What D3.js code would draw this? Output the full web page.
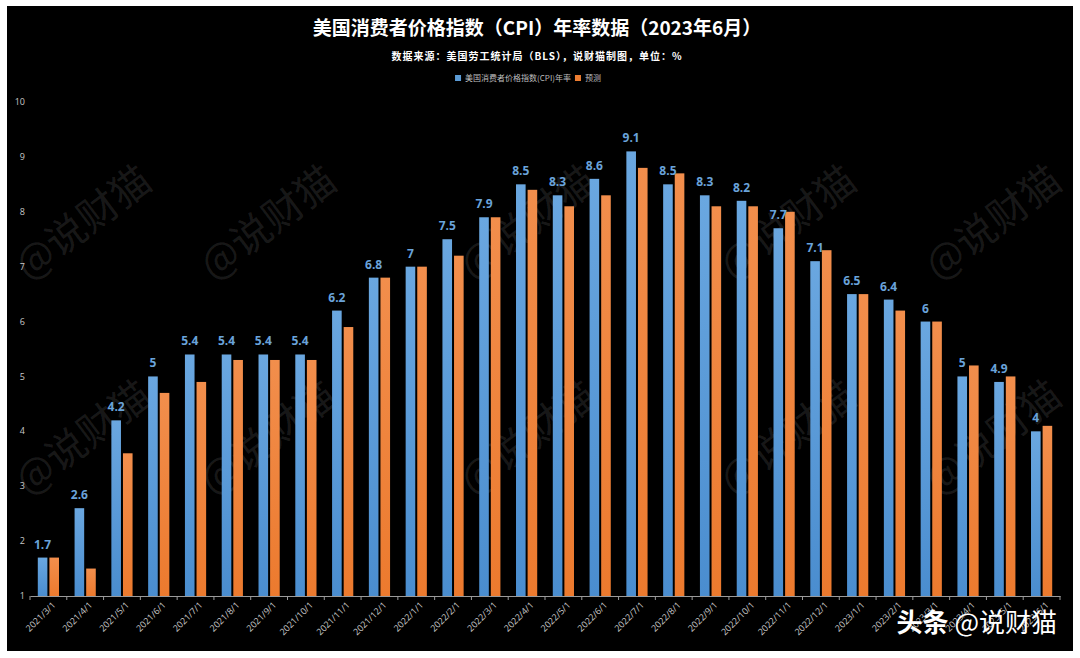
<!DOCTYPE html>
<html>
<head>
<meta charset="utf-8">
<script src="https://cdn.jsdelivr.net/npm/d3@7"></script>
<style>
  html, body { margin: 0; padding: 0; background: #ffffff; }
  svg { display: block; }
</style>
</head>
<body>
<svg id="chart" width="1080" height="658"></svg>
<script>
const categories = ["2021/3/1","2021/4/1","2021/5/1","2021/6/1","2021/7/1","2021/8/1","2021/9/1","2021/10/1","2021/11/1","2021/12/1",
  "2022/1/1","2022/2/1","2022/3/1","2022/4/1","2022/5/1","2022/6/1","2022/7/1","2022/8/1","2022/9/1","2022/10/1","2022/11/1","2022/12/1",
  "2023/1/1","2023/2/1","2023/3/1","2023/4/1","2023/5/1","2023/6/1"];
const cpiValues = [1.7,2.6,4.2,5,5.4,5.4,5.4,5.4,6.2,6.8,7,7.5,7.9,8.5,8.3,8.6,9.1,8.5,8.3,8.2,7.7,7.1,6.5,6.4,6,5,4.9,4];
const forecastValues = [1.7,1.5,3.6,4.7,4.9,5.3,5.3,5.3,5.9,6.8,7,7.2,7.9,8.4,8.1,8.3,8.8,8.7,8.1,8.1,8.0,7.3,6.5,6.2,6.0,5.2,5.0,4.1];
const yTicks = [1,2,3,4,5,6,7,8,9,10];
const seriesNames = ["美国消费者价格指数(CPI)年率", "预测"];
const titleText = "美国消费者价格指数（CPI）年率数据（2023年6月）";
const subtitleText = "数据来源：美国劳工统计局（BLS），说财猫制图，单位：%";

const svg = d3.select("#chart");
const CJK = "'Noto Sans CJK SC', 'Noto Sans', sans-serif";
const NUM = "'Open Sans', 'Noto Sans', sans-serif";

// defs: gradients
const defs = svg.append("defs");
const gB = defs.append("linearGradient").attr("id","gBlue").attr("x1",0).attr("y1",0).attr("x2",0).attr("y2",1);
gB.append("stop").attr("offset","0%").attr("stop-color","#6aa7e0");
gB.append("stop").attr("offset","100%").attr("stop-color","#4a8dcf");
const gO = defs.append("linearGradient").attr("id","gOrange").attr("x1",0).attr("y1",0).attr("x2",0).attr("y2",1);
gO.append("stop").attr("offset","0%").attr("stop-color","#f28e4c");
gO.append("stop").attr("offset","100%").attr("stop-color","#ec7a2e");

// background panel
svg.append("rect").attr("x",7).attr("y",6).attr("width",1066).attr("height",645).attr("fill","#000");

// watermarks (kept fully inside the panel)
const wmPos = [[85,225],[270,225],[530,225],[790,225],[995,225],
               [85,440],[270,440],[530,440],[790,440],[995,440]];
const wm = svg.append("g").attr("pointer-events","none");
wm.selectAll("text").data(wmPos).join("text")
  .attr("transform", d => `translate(${d[0]},${d[1]}) rotate(-37)`)
  .attr("text-anchor","middle").attr("dominant-baseline","middle")
  .attr("font-family", CJK).attr("font-size", 40)
  .attr("fill","#ffffff").attr("fill-opacity",0.10)
  .text("@说财猫");

// scales
const x = d3.scaleBand().domain(categories).range([30, 1060]).paddingInner(0).paddingOuter(0);
const y = d3.scaleLinear().domain([1, 10]).range([596, 102]);
const barW = 9.6, gap = 2;

// y tick labels
svg.append("g").selectAll("text").data(yTicks).join("text")
  .attr("x", 25).attr("y", d => y(d)).attr("dy","0.35em")
  .attr("text-anchor","end").attr("font-family", NUM).attr("font-size", 9)
  .attr("fill","#c8c8c8").text(d => d);

// bars
const gBars = svg.append("g");
gBars.selectAll("rect.cpi").data(cpiValues).join("rect").attr("class","cpi")
  .attr("x", (d,i) => x(categories[i]) + x.bandwidth()/2 - gap/2 - barW)
  .attr("y", d => y(d)).attr("width", barW).attr("height", d => y(1) - y(d))
  .attr("fill","url(#gBlue)");
gBars.selectAll("rect.fc").data(forecastValues).join("rect").attr("class","fc")
  .attr("x", (d,i) => x(categories[i]) + x.bandwidth()/2 + gap/2)
  .attr("y", d => y(d)).attr("width", barW).attr("height", d => y(1) - y(d))
  .attr("fill","url(#gOrange)");

// data labels
svg.append("g").selectAll("text").data(cpiValues).join("text")
  .attr("x", (d,i) => x(categories[i]) + x.bandwidth()/2 - gap/2 - barW/2)
  .attr("y", d => y(d) - 9)
  .attr("text-anchor","middle").attr("font-family", NUM).attr("font-weight","bold")
  .attr("font-size", 12).attr("fill","#6aa3da").text(d => d);

// x axis
const xAxis = d3.axisBottom(x).tickSize(0).tickFormat("");
const gx = svg.append("g").attr("transform","translate(0,596)").call(xAxis);
gx.select(".domain").attr("stroke","#9a9a9a").attr("stroke-width",1);
const bounds = categories.map(c => x(c)).concat([x(categories[categories.length-1]) + x.bandwidth()]);
gx.selectAll("line.tk").data(bounds).join("line").attr("class","tk")
  .attr("x1", d => d).attr("x2", d => d).attr("y1", 0).attr("y2", 4)
  .attr("stroke","#9a9a9a");
svg.append("g").selectAll("text").data(categories).join("text")
  .attr("transform", d => `translate(${x(d) + x.bandwidth()/2 + 6},${604}) rotate(-45)`)
  .attr("text-anchor","end").attr("dominant-baseline","middle")
  .attr("font-family", NUM).attr("font-size", 9).attr("fill","#c8c8c8")
  .text(d => d);

// title
svg.append("text").attr("x", 537).attr("y", 35).attr("text-anchor","middle")
  .attr("font-family", CJK).attr("font-weight","bold").attr("font-size", 19)
  .attr("fill","#ffffff").text(titleText);
svg.append("text").attr("x", 537).attr("y", 60).attr("text-anchor","middle")
  .attr("font-family", CJK).attr("font-weight","bold").attr("font-size", 10)
  .attr("fill","#ffffff").attr("letter-spacing", 1).text(subtitleText);

// legend
const lg = svg.append("g").attr("font-family", CJK).attr("font-size", 8).attr("fill","#bdbdbd");
const sq = 6, padAfterSq = 4, padBetween = 4;
const t0 = lg.append("text").attr("y",78).attr("dy","0.35em").text(seriesNames[0]);
const t1 = lg.append("text").attr("y",78).attr("dy","0.35em").text(seriesNames[1]);
const w0 = t0.node().getComputedTextLength(), w1 = t1.node().getComputedTextLength();
const totalW = sq + padAfterSq + w0 + padBetween + sq + padAfterSq + w1;
let lx = 528 - totalW/2;
lg.append("rect").attr("x",lx).attr("y",75).attr("width",sq).attr("height",sq).attr("fill","#5b9bd5");
t0.attr("x", lx + sq + padAfterSq);
lx += sq + padAfterSq + w0 + padBetween;
lg.append("rect").attr("x",lx).attr("y",75).attr("width",sq).attr("height",sq).attr("fill","#ed7d31");
t1.attr("x", lx + sq + padAfterSq);

// corner brand
const br = svg.append("text").attr("x", 1057).attr("y", 632).attr("text-anchor","end")
  .attr("font-family", CJK).attr("font-size", 26).attr("fill","#ffffff");
br.append("tspan").attr("font-weight","bold").text("头条 ");
br.append("tspan").text("@说财猫");
</script>
</body>
</html>
